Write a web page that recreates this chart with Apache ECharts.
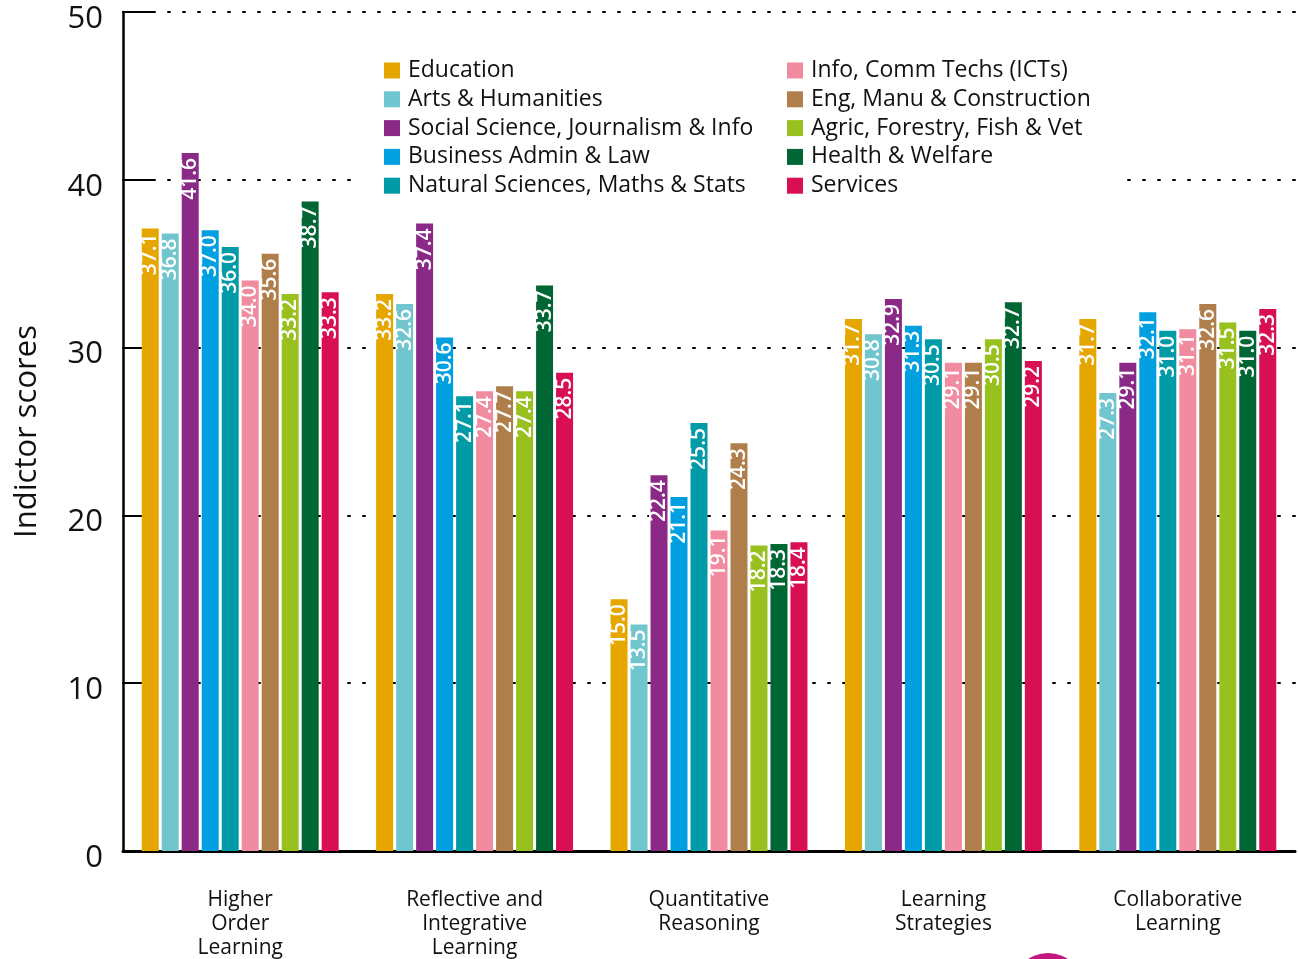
<!DOCTYPE html>
<html>
<head>
<meta charset="utf-8">
<script src="https://cdn.jsdelivr.net/npm/echarts@6/dist/echarts.min.js"></script>
<style>
html,body{margin:0;padding:0;background:#fff;}
#chart{width:1298px;height:959px;}
</style>
</head>
<body>
<div id="chart"></div>
<script>
const categories = ['Higher\nOrder\nLearning', 'Reflective and\nIntegrative\nLearning', 'Quantitative\nReasoning', 'Learning\nStrategies', 'Collaborative\nLearning'];
const yTicks = [0, 10, 20, 30, 40, 50];

const education      = [37.1, 33.2, 15.0, 31.7, 31.7];
const artsHumanities = [36.8, 32.6, 13.5, 30.8, 27.3];
const socialScience  = [41.6, 37.4, 22.4, 32.9, 29.1];
const businessLaw    = [37.0, 30.6, 21.1, 31.3, 32.1];
const naturalSci     = [36.0, 27.1, 25.5, 30.5, 31.0];
const ict            = [34.0, 27.4, 19.1, 29.1, 31.1];
const engineering    = [35.6, 27.7, 24.3, 29.1, 32.6];
const agriculture    = [33.2, 27.4, 18.2, 30.5, 31.5];
const health         = [38.7, 33.7, 18.3, 32.7, 31.0];
const services       = [33.3, 28.5, 18.4, 29.2, 32.3];

const seriesNames = ['Education', 'Arts & Humanities', 'Social Science, Journalism & Info', 'Business Admin & Law', 'Natural Sciences, Maths & Stats',
  'Info, Comm Techs (ICTs)', 'Eng, Manu & Construction', 'Agric, Forestry, Fish & Vet', 'Health & Welfare', 'Services'];
const seriesData = [education, artsHumanities, socialScience, businessLaw, naturalSci, ict, engineering, agriculture, health, services];
const colors = ['#E5A600', '#70C5CE', '#8B2A86', '#009FE0', '#009BA7', '#F08BA0', '#B07E4A', '#98C11F', '#006634', '#D80F55'];

const FONT = '"Open Sans", "Noto Sans", sans-serif';

const chart = echarts.init(document.getElementById('chart'), null, {renderer: 'canvas'});

const series = seriesNames.map((name, i) => ({
  name: name,
  type: 'bar',
  data: seriesData[i],
  barWidth: 17,
  barGap: '17.6%',
  itemStyle: {color: colors[i]},
  label: {
    show: true,
    position: 'insideTop',
    rotate: 90,
    align: 'right',
    verticalAlign: 'middle',
    distance: 5,
    color: '#fff',
    fontFamily: FONT,
    fontSize: 21,
    fontWeight: 600,
    formatter: p => p.value.toFixed(1)
  }
}));

const legendCommon = {
  orient: 'vertical',
  icon: 'rect',
  itemWidth: 16,
  itemHeight: 16,
  itemGap: 5.8,
  padding: 0,
  textStyle: {fontFamily: FONT, fontSize: 23, color: '#111', lineHeight: 22, padding: [0, 0, 0, 3]},
  selectedMode: false
};

chart.setOption({
  animation: false,
  color: colors,
  grid: {left: 123, right: 3, top: 12, bottom: 108, containLabel: false, outerBoundsMode: 'none'},
  legend: [
    Object.assign({}, legendCommon, {data: seriesNames.slice(0, 5), left: 384, top: 59}),
    Object.assign({}, legendCommon, {data: seriesNames.slice(5), left: 787, top: 59})
  ],
  xAxis: {
    type: 'category',
    data: categories,
    axisLine: {show: true, onZero: false, lineStyle: {color: '#000', width: 3}},
    axisTick: {show: false},
    axisLabel: {fontFamily: FONT, fontSize: 21, lineHeight: 24, color: '#111', margin: 37, interval: 0}
  },
  yAxis: {
    type: 'value',
    min: 0,
    max: 50,
    interval: 10,
    name: 'Indictor scores',
    nameLocation: 'middle',
    nameRotate: 90,
    nameGap: 80,
    nameTextStyle: {fontFamily: FONT, fontSize: 31, color: '#111'},
    axisLine: {show: true, lineStyle: {color: '#000', width: 2.5}},
    axisTick: {show: true, inside: true, length: 30, lineStyle: {color: '#000', width: 2}},
    axisLabel: {fontFamily: FONT, fontSize: 31, color: '#111', margin: 20, verticalAlign: 'top', lineHeight: 14,
      formatter: v => yTicks.includes(v) ? String(v) : ''},
    splitLine: {show: true, lineStyle: {color: '#000', width: 2, type: [2, 13], cap: 'round'}}
  },
  graphic: [{
    type: 'rect',
    shape: {x: 355, y: 50, width: 770, height: 155},
    style: {fill: '#fff'},
    z: 1
  }, {
    type: 'circle',
    shape: {cx: 1048, cy: 989, r: 36},
    style: {fill: '#C5157F'},
    z: 0
  }],
  series: series
});
</script>
</body>
</html>
